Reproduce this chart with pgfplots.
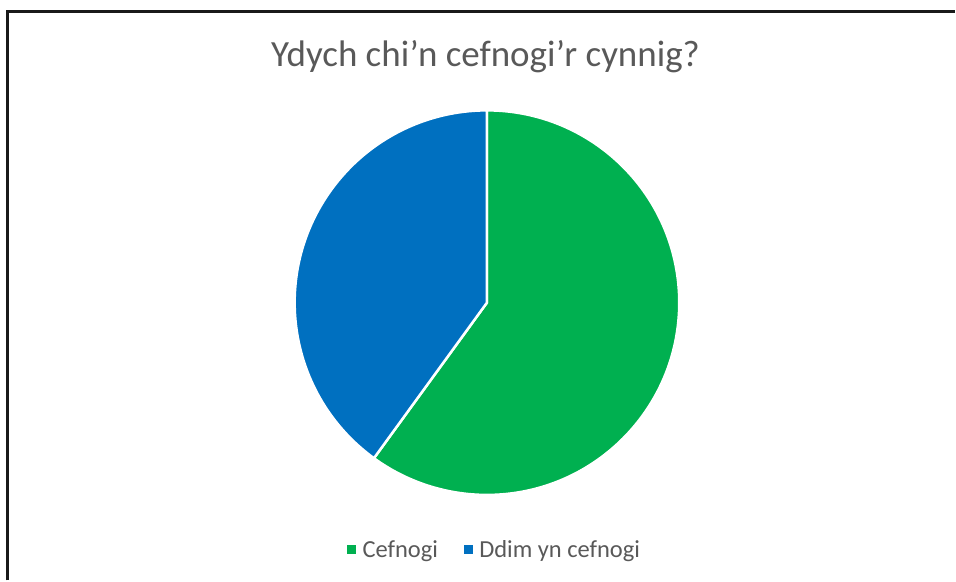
\documentclass[border=0pt]{standalone}
\usepackage{pgfplots}
\pgfplotsset{compat=1.18}
\usepackage{pgfplotstable}
\usepackage{fontspec}
\setmainfont{Carlito}
\definecolor{cgreen}{HTML}{00B050}
\definecolor{cblue}{HTML}{0070C0}
\definecolor{ctext}{HTML}{595959}
\pgfplotstableread{
label value
Cefnogi 60
Ddim 40
}\piedata
\begin{document}
\begin{tikzpicture}[x=1bp,y=1bp]
\path[fill=white] (0,0) rectangle (956,581);
\draw[line width=2.2bp, color=black!90] (7.5,0) -- (7.5,569.5) -- (956,569.5);
\node[anchor=base, text=ctext, inner sep=0pt, font=\fontsize{37bp}{44bp}\selectfont] at (486,514) {Ydych chi’n cefnogi’r cynnig?};
\pgfplotstablegetelem{0}{value}\of\piedata \let\va\pgfplotsretval
\pgfplotstablegetelem{1}{value}\of\piedata \let\vb\pgfplotsretval
\pgfmathsetmacro\ea{90-3.6*\va}
\pgfmathsetmacro\eb{\ea-3.6*\vb}
\begin{axis}[at={(487.5bp,278bp)}, anchor=center, scale only axis,
  width=383bp, height=383bp, xmin=-1, xmax=1, ymin=-1, ymax=1,
  hide axis, clip=false, legend columns=2,
  legend image code/.code={\fill[#1] (0bp,-4bp) rectangle (8bp,4bp);},
  legend style={at={(0.52,-0.145)}, anchor=center, draw=none, fill=none,
    font=\fontsize{24.5bp}{29bp}\selectfont, text=ctext,
    /tikz/every odd column/.append style={column sep=5bp},
    /tikz/every even column/.append style={column sep=24bp}}]
\addlegendimage{cgreen}
\addlegendentry{Cefnogi}
\addlegendimage{cblue}
\addlegendentry{Ddim yn cefnogi}
\fill[cgreen, draw=white, line width=2.5bp, line join=round] (axis cs:0,0) -- ++(90:192.5bp) arc[start angle=90, end angle=\ea, radius=192.5bp] -- cycle;
\fill[cblue, draw=white, line width=2.5bp, line join=round] (axis cs:0,0) -- ++(\ea:192.5bp) arc[start angle=\ea, end angle=\eb, radius=192.5bp] -- cycle;
\end{axis}
\end{tikzpicture}
\end{document}
